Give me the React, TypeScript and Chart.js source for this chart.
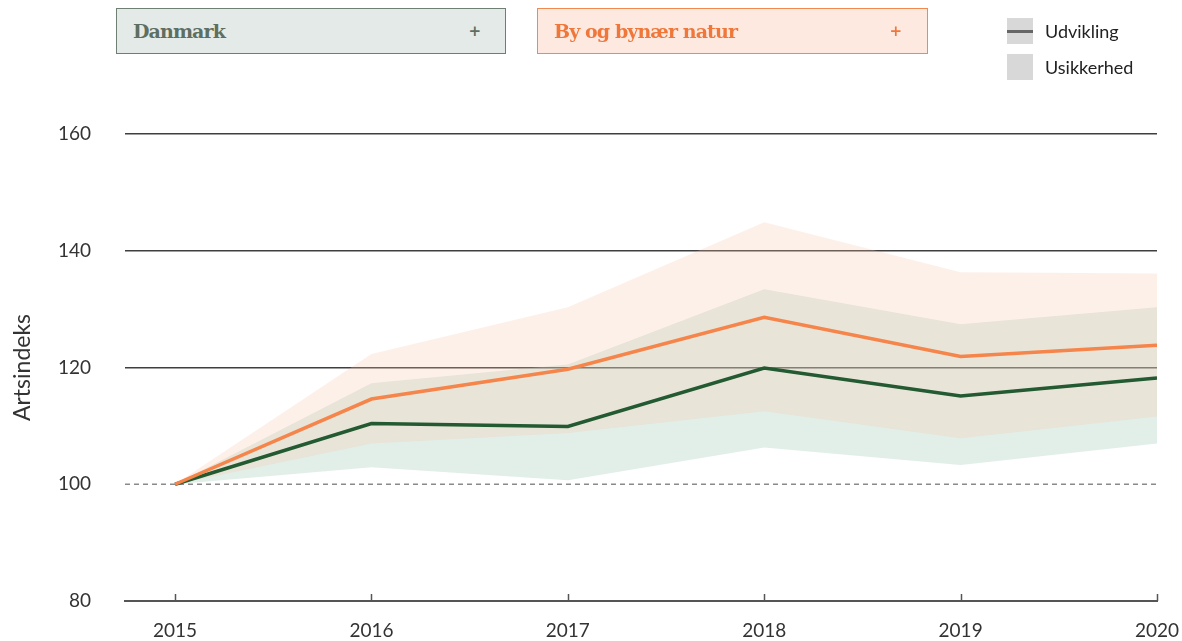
import React, { useEffect, useRef } from "react";
import { Chart, registerables } from "chart.js";

Chart.register(...registerables);

const years = [2015, 2016, 2017, 2018, 2019, 2020];
const danmark = [100, 110.4, 109.9, 119.9, 115.1, 118.2];
const danmarkUpper = [100, 117.3, 120.5, 133.4, 127.4, 130.3];
const danmarkLower = [100, 102.9, 100.7, 106.3, 103.3, 107.0];
const byNatur = [100, 114.6, 119.7, 128.6, 121.9, 123.8];
const byNaturUpper = [100, 122.3, 130.3, 144.9, 136.3, 136.1];
const byNaturLower = [100, 107.0, 108.8, 112.5, 107.9, 111.6];
const yTicks = [80, 100, 120, 140, 160];
const solidGridValues = [120, 140, 160];
const baselineValue = 100;
const xMin = 2014.745;
const xMax = 2020;

const pts = (vals: number[]) => vals.map((y, i) => ({ x: years[i], y }));

const tickMarks = {
  id: "tickMarks",
  afterDatasetsDraw(chart: any) {
    const { ctx, chartArea, scales } = chart;
    const xs = scales.x;
    ctx.save();
    ctx.strokeStyle = "#555";
    ctx.lineWidth = 1.5;
    years.forEach((v) => {
      const px = Math.round(xs.getPixelForValue(v)) + 0.5;
      ctx.beginPath();
      ctx.moveTo(px, chartArea.bottom);
      ctx.lineTo(px, chartArea.bottom - 7);
      ctx.stroke();
    });
    ctx.restore();
  },
};

function ChartView() {
  const ref = useRef<HTMLCanvasElement | null>(null);
  useEffect(() => {
    if (!ref.current) return;
    const font = { family: "Lato", size: 19 };
    const chart = new Chart(ref.current, {
      type: "line",
      data: {
        datasets: [
          {
            label: "By og bynær natur",
            data: pts(byNatur),
            borderColor: "#f5854a",
            borderWidth: 3.5,
            pointRadius: 0,
            fill: false,
            order: 0,
          },
          {
            label: "Danmark",
            data: pts(danmark),
            borderColor: "#235a31",
            borderWidth: 3.5,
            pointRadius: 0,
            fill: false,
            order: 0,
          },
          {
            label: "baseline",
            data: [
              { x: xMin, y: baselineValue },
              { x: xMax, y: baselineValue },
            ],
            borderColor: "#8a8a8a",
            borderWidth: 1.3,
            borderDash: [5, 4],
            pointRadius: 0,
            fill: false,
            order: 1,
          },
          {
            label: "byUpper",
            data: pts(byNaturUpper),
            borderWidth: 0,
            pointRadius: 0,
            backgroundColor: "rgba(247,195,167,0.25)",
            fill: "+1",
            order: 2,
          },
          {
            label: "byLower",
            data: pts(byNaturLower),
            borderWidth: 0,
            pointRadius: 0,
            fill: false,
            order: 2,
          },
          {
            label: "dkUpper",
            data: pts(danmarkUpper),
            borderWidth: 0,
            pointRadius: 0,
            backgroundColor: "rgba(160,200,180,0.3)",
            fill: "+1",
            order: 3,
          },
          {
            label: "dkLower",
            data: pts(danmarkLower),
            borderWidth: 0,
            pointRadius: 0,
            fill: false,
            order: 3,
          },
        ],
      },
      options: {
        animation: false,
        responsive: false,
        layout: { padding: { top: 134, right: 25, left: 0, bottom: 0 } },
        plugins: { legend: { display: false }, tooltip: { enabled: false } },
        elements: { line: { tension: 0 } },
        scales: {
          x: {
            type: "linear",
            min: xMin,
            max: xMax,
            afterBuildTicks: (s: any) => {
              s.ticks = years.map((v) => ({ value: v }));
            },
            ticks: {
              callback: (v: any) => String(v),
              font,
              color: "#333",
              padding: 18,
              maxRotation: 0,
              autoSkip: false,
            },
            grid: { display: false, drawTicks: false },
            border: { display: true, color: "#555", width: 2 },
            afterFit: (s: any) => {
              s.height = 40;
              s.paddingRight = 0;
              s.paddingLeft = 0;
            },
          },
          y: {
            min: 80,
            max: 160,
            afterBuildTicks: (s: any) => {
              s.ticks = yTicks.map((v) => ({ value: v }));
            },
            ticks: { font, color: "#333", padding: 34 },
            grid: {
              drawTicks: false,
              lineWidth: 1.5,
              color: (c: any) =>
                c.tick && solidGridValues.includes(c.tick.value) ? "#3f3f3f" : "rgba(0,0,0,0)",
            },
            border: { display: false },
            title: {
              display: true,
              text: "Artsindeks",
              font: { family: "Lato", size: 23 },
              color: "#333",
              padding: { top: 9, bottom: 0 },
            },
            afterFit: (s: any) => {
              s.width = 125;
              s.paddingTop = 0;
              s.paddingBottom = 0;
            },
          },
        },
      },
      plugins: [tickMarks],
    } as any);
    return () => chart.destroy();
  }, []);
  return <canvas ref={ref} width={1182} height={641} style={{ width: 1182, height: 641, display: "block" }} />;
}

const boxBase: React.CSSProperties = {
  position: "absolute",
  top: 8,
  height: 46,
  boxSizing: "border-box",
  fontFamily: "'DejaVu Serif', serif",
  fontWeight: 700,
  fontSize: 19,
  display: "flex",
  alignItems: "center",
  justifyContent: "space-between",
  paddingLeft: 16,
};

export default function App() {
  return (
    <div style={{ position: "absolute", left: 0, top: 0, width: 1182, height: 641, background: "#fff", overflow: "hidden" }}>
      <ChartView />
      <div
        style={{
          ...boxBase,
          left: 116,
          width: 390,
          background: "#e4eae7",
          border: "1.5px solid #6f7f73",
          color: "#5d6e62",
          paddingRight: 24,
        }}
      >
        <span style={{ letterSpacing: -0.9 }}>Danmark</span>
        <span style={{ fontSize: 15 }}>+</span>
      </div>
      <div
        style={{
          ...boxBase,
          left: 537,
          width: 391,
          background: "#fde9df",
          border: "1.5px solid #f08a50",
          color: "#f0773a",
          paddingRight: 25,
        }}
      >
        <span style={{ letterSpacing: -0.9 }}>By og bynær natur</span>
        <span style={{ fontSize: 15 }}>+</span>
      </div>
      <div style={{ position: "absolute", left: 1007, top: 18, width: 26, height: 26, background: "#d8d8d8" }}>
        <div style={{ position: "absolute", left: 0, top: 11.5, width: 26, height: 3, background: "#666" }} />
      </div>
      <div style={{ position: "absolute", left: 1045, top: 19, fontFamily: "Lato", fontSize: 18, color: "#222", lineHeight: "24px" }}>
        Udvikling
      </div>
      <div style={{ position: "absolute", left: 1007, top: 54, width: 26, height: 26, background: "#d8d8d8" }} />
      <div style={{ position: "absolute", left: 1045, top: 55, fontFamily: "Lato", fontSize: 18, color: "#222", lineHeight: "24px" }}>
        Usikkerhed
      </div>
    </div>
  );
}
